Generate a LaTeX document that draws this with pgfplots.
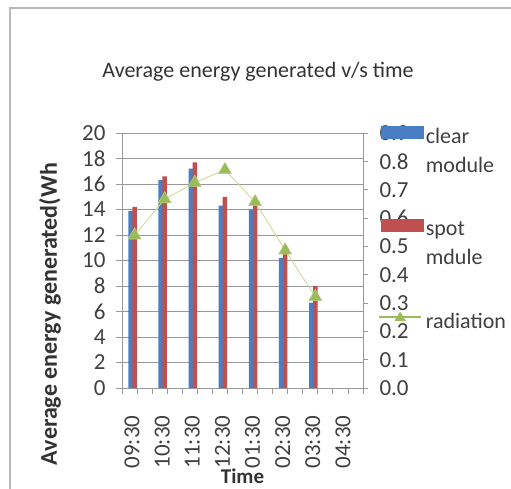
\documentclass[border=0pt]{standalone}
\usepackage{pgfplots}
\pgfplotsset{compat=1.18}
\usepackage{fontspec}
\setmainfont{Carlito}
\definecolor{xlblue}{HTML}{4A7EC4}
\definecolor{xlred}{HTML}{C0504D}
\definecolor{xlgreen}{HTML}{9BBB59}
\definecolor{xlline}{HTML}{C9D98F}
\definecolor{gridgray}{HTML}{999999}
\begin{document}
\begin{tikzpicture}[x=1pt,y=1pt]
\path[use as bounding box] (0,0) rectangle (511,488);
\draw[gray!55, line width=1.8pt] (10,-10) -- (10,480) -- (530,480);
\node[font=\fontsize{22}{26}\selectfont, text=black!80] at (258,416) {Average energy generated v/s time};
\begin{axis}[
  at={(122pt,100pt)}, anchor=south west,
  scale only axis, width=241pt, height=255pt,
  xmin=-0.5, xmax=7.5, ymin=0, ymax=20,
  axis x line*=bottom, axis y line*=left,
  axis line style={gridgray, line width=0.8pt},
  ytick={0,2,...,20},
  xtick={0,...,7},
  xticklabels={09:30,10:30,11:30,12:30,01:30,02:30,03:30,04:30},
  minor xtick={-0.5,0.5,...,7.5},
  tick align=outside,
  major tick length=6pt, minor tick length=6pt,
  every tick/.style={gridgray, line width=0.8pt},
  ymajorgrids, grid style={gridgray, line width=1pt},
  /pgf/number format/assume math mode=true,
  tick label style={font=\fontsize{23}{27}\selectfont, text=black!75},
  yticklabel style={xshift=-7pt},
  xticklabel style={xshift=-5pt, yshift=-18pt, rotate=90, anchor=east},
  ylabel={Average energy generated(Wh},
  ylabel style={at={(axis description cs:-0.2988,0.29)}, anchor=center, rotate=0, font=\bfseries\fontsize{24}{28}\selectfont, text=black!80},
  xlabel={Time},
  xlabel style={at={(axis description cs:0.5,-0.345)}, anchor=center, font=\bfseries\fontsize{21}{25}\selectfont, text=black!80},
  clip=false,
]
\addplot[ybar, bar width=4.5pt, bar shift=-6.5pt, fill=xlblue, draw=none]
  coordinates {(0,13.9) (1,16.3) (2,17.2) (3,14.3) (4,14.0) (5,10.2) (6,6.7)};
\addplot[ybar, bar width=4.5pt, bar shift=-2.5pt, fill=xlred, draw=none]
  coordinates {(0,14.2) (1,16.6) (2,17.7) (3,15.0) (4,14.4) (5,11.0) (6,8.0)};
\end{axis}
\begin{axis}[
  at={(122pt,100pt)}, anchor=south west,
  scale only axis, width=241pt, height=255pt,
  xmin=-0.5, xmax=7.5, ymin=0, ymax=0.9,
  axis x line=none, axis y line*=right,
  axis line style={gridgray, line width=0.8pt},
  ytick={0,0.1,...,0.9},
  tick align=outside, major tick length=5pt,
  every tick/.style={gridgray, line width=0.8pt},
  /pgf/number format/assume math mode=true,
  /pgf/number format/fixed, /pgf/number format/fixed zerofill, /pgf/number format/precision=1,
  tick label style={font=\fontsize{23}{27}\selectfont, text=black!75},
  yticklabel style={xshift=8pt},
  legend style={at={(axis description cs:1.062,1.03)}, anchor=north west, draw=none, fill=none,
    font=\fontsize{22}{29}\selectfont, cells={align=left}, row sep=43pt, text=black!75,
    inner sep=0pt},
  legend cell align=left,
  clip=false,
]
\addlegendimage{legend image code/.code={\fill[xlblue] (0pt,13pt) rectangle (42pt,25pt);}}
\addlegendentry{clear\\module}
\addlegendimage{legend image code/.code={\fill[xlred] (0pt,13pt) rectangle (42pt,25pt);}}
\addlegendentry{spot\\mdule}
\addplot[xlline, line width=0.8pt, xshift=-2.5pt, mark=triangle*, mark size=7.5pt,
  mark options={fill=xlgreen, draw=xlgreen!70!white, line width=0.5pt},
  legend image code/.code={\draw[xlgreen, line width=2pt] (0pt,4pt) -- (42pt,4pt); \fill[xlgreen] (21pt,4pt) ++(-5pt,-3pt) -- ++(10pt,0) -- ++(-5pt,8pt) -- cycle;}]
  coordinates {(0,0.539) (1,0.667) (2,0.725) (3,0.770) (4,0.657) (5,0.486) (6,0.322)};
\addlegendentry{radiation}
\end{axis}
\end{tikzpicture}
\end{document}
